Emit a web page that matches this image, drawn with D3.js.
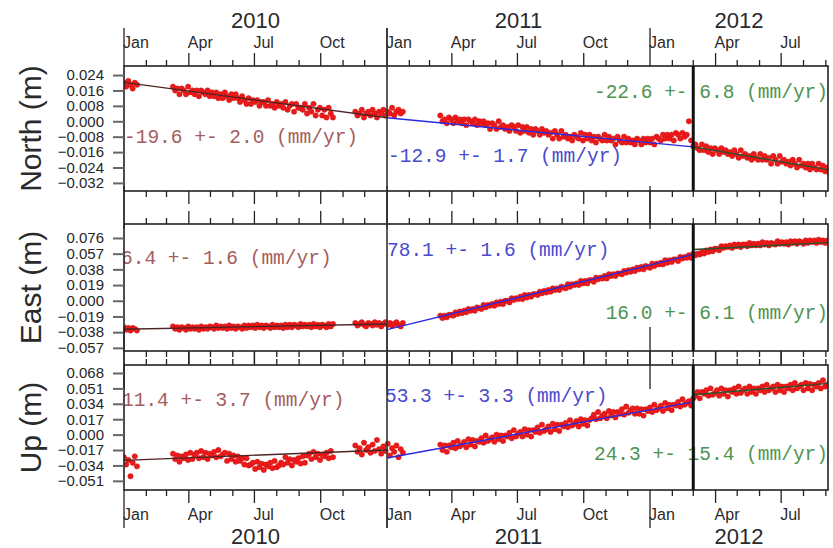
<!DOCTYPE html>
<html lang="en">
<head>
<meta charset="UTF-8">
<title>GPS North / East / Up time series</title>
<script src="https://d3js.org/d3.v7.min.js"></script>
<style>
  body { margin: 0; background: #fff; }
  svg { display: block; }
</style>
</head>
<body>
<svg width="833" height="548"></svg>
<script>
// daily solutions, sampled every 3 days from the start of each data segment
const segmentStarts = ['2010-01-01', '2010-03-10', '2010-11-18', '2011-03-16'];
const stepDays = 3;

// positions in mm, one inner array per data segment
const northMm = [
  [20, 18, 21, 19, 17, 20, 19],
  [18, 16, 17, 14, 17, 16, 14, 18, 15, 16,
   14, 16, 13, 16, 15, 14, 16, 13, 15, 13,
   15, 12, 14, 12, 15, 13, 11, 14, 12, 14,
   12, 10, 13, 11, 9, 12, 9, 11, 10, 11,
   8, 10, 10, 8, 11, 8, 9, 7, 10, 8,
   9, 7, 10, 6, 8, 9, 5, 9, 7, 7,
   6, 9, 4, 7, 5, 9, 3, 6, 7, 3,
   6, 2, 7, 4, 2],
  [5, 3, 4, 6, 2, 4, 5, 3, 6, 4, 2, 5, 4, 6, 3, 5, 4, 7, 3, 5, 6, 4, 5],
  [3, 0, 1, -1, 2, 1, -1, 2, 0, 1,
   -1, 1, -2, 1, 0, -1, 1, -2, 0, -1,
   0, -2, -1, -4, -1, -2, -4, 0, -3, -2,
   -4, -3, -5, -2, -3, -5, -2, -6, -3, -5,
   -3, -6, -4, -7, -4, -5, -7, -4, -6, -5,
   -7, -6, -9, -5, -7, -9, -5, -8, -7, -9,
   -8, -10, -7, -8, -9, -6, -10, -7, -9, -7,
   -10, -8, -11, -8, -9, -10, -7, -10, -8, -10,
   -9, -12, -8, -10, -11, -8, -11, -9, -11, -10,
   -12, -9, -10, -12, -9, -11, -9, -11, -9, -12,
   -8, -9, -10, -7, -9, -7, -9, -7, -10, -6,
   -7, -9, -6, -8, -7, 0, -10, -13, -12, -14,
   -15, -12, -15, -13, -16, -14, -17, -14, -15, -17,
   -14, -16, -15, -17, -16, -18, -15, -17, -19, -15,
   -18, -17, -19, -18, -20, -17, -19, -20, -17, -20,
   -18, -20, -19, -22, -18, -20, -22, -18, -21, -20,
   -22, -21, -23, -20, -22, -24, -20, -23, -22, -24,
   -22, -25, -22, -24, -25, -22, -25, -23, -26, -24, -27]
];

const eastMm = [
  [-32, -35, -33, -36, -33, -34, -36],
  [-31, -34, -32, -35, -32, -33, -35, -31, -34, -32,
   -34, -32, -35, -31, -34, -32, -34, -31, -32, -34,
   -30, -33, -31, -33, -31, -34, -30, -33, -31, -34,
   -31, -32, -34, -30, -33, -30, -32, -30, -33, -29,
   -32, -30, -33, -30, -31, -33, -29, -32, -30, -32,
   -30, -33, -29, -32, -29, -32, -29, -30, -32, -28,
   -31, -29, -31, -29, -32, -28, -31, -29, -32, -29,
   -30, -32, -28, -31, -28],
  [-27, -30, -28, -26, -29, -31, -27, -28, -30, -26, -29, -27, -31, -28, -26, -29, -27, -30, -28, -26, -29, -31, -27],
  [-18, -21, -18, -20, -17, -17, -18, -14, -16, -13,
   -15, -12, -14, -10, -12, -10, -12, -8, -9, -10,
   -5, -8, -5, -6, -4, -6, -2, -4, -1, -4,
   0, 0, -2, 3, 1, 3, 2, 5, 2, 7,
   4, 7, 5, 8, 8, 7, 11, 9, 12, 10,
   13, 11, 15, 13, 15, 13, 17, 16, 15, 20,
   17, 20, 19, 21, 19, 24, 21, 24, 21, 25,
   25, 23, 28, 26, 28, 27, 30, 27, 32, 30,
   32, 30, 33, 33, 32, 36, 34, 37, 35, 38,
   36, 40, 38, 41, 38, 42, 41, 40, 45, 42,
   45, 44, 46, 44, 49, 46, 49, 47, 50, 50,
   48, 53, 51, 53, 52, 55, 52, 57, 55, 57,
   56, 59, 57, 61, 59, 62, 60, 63, 63, 61,
   66, 64, 66, 65, 67, 64, 68, 66, 68, 65,
   68, 68, 66, 70, 67, 69, 67, 69, 67, 71,
   68, 70, 67, 70, 69, 68, 72, 69, 71, 69,
   71, 68, 72, 70, 72, 69, 72, 71, 69, 73,
   70, 73, 71, 73, 70, 74, 71, 73, 70, 73, 72]
];

const upMm = [
  [-25, -33, -28, -46, -31, -24, -35],
  [-21, -27, -23, -30, -24, -26, -22, -28, -20, -27,
   -22, -20, -26, -18, -25, -20, -27, -21, -23, -19,
   -25, -17, -24, -22, -20, -29, -21, -27, -23, -30,
   -24, -29, -26, -33, -26, -34, -33, -31, -38, -30,
   -36, -32, -39, -33, -35, -31, -37, -29, -36, -34,
   -31, -33, -25, -31, -27, -34, -28, -30, -26, -32,
   -24, -31, -23, -21, -27, -19, -25, -21, -28, -22,
   -24, -20, -26, -18, -25],
  [-12, -19, -15, -22, -9, -17, -14, -20, -11, -18, -6, -16, -21, -13, -18, -10, -23, -15, -19, -12, -25, -16, -20],
  [-11, -17, -12, -19, -12, -14, -9, -15, -7, -13,
   -11, -8, -14, -5, -11, -6, -13, -7, -8, -4,
   -9, -1, -7, -5, -3, -8, 0, -5, -1, -7,
   -1, -2, 2, -4, 5, -2, 1, 3, -2, 6,
   0, 5, -2, 5, 3, 8, 2, 11, 4, 6,
   9, 3, 12, 6, 11, 4, 11, 9, 13, 8,
   16, 10, 12, 15, 9, 17, 12, 16, 10, 16,
   18, 22, 17, 25, 18, 21, 23, 18, 26, 21,
   25, 19, 25, 23, 28, 22, 31, 24, 27, 29,
   23, 29, 23, 28, 21, 28, 26, 30, 25, 33,
   27, 29, 32, 26, 35, 29, 33, 27, 33, 32,
   36, 31, 39, 33, 35, 37, 32, 40, 43, 47,
   40, 47, 45, 49, 43, 51, 44, 46, 49, 43,
   51, 45, 49, 42, 49, 47, 51, 45, 53, 46,
   49, 51, 45, 53, 47, 51, 45, 51, 49, 53,
   47, 55, 49, 51, 53, 47, 55, 49, 53, 47,
   53, 51, 55, 49, 57, 51, 53, 55, 49, 57,
   51, 56, 49, 55, 53, 57, 51, 60, 53, 55, 57]
];

// linear fits (mm) between the break dates
const fitBreaks = ['2010-01-01', '2011-01-01', '2012-03-01', '2012-09-04'];
const northFit = [[20.2, 1.8], [1.8, -13.3], [-13.3, -25.1]];
const eastFit = [[-34.5, -28.1], [-35.0, 56.1], [62.0, 70.3]];
const upFit = [[-28.4, -17.0], [-25.8, 36.1], [44.0, 56.5]];

const northRates = ['-19.6 +- 2.0 (mm/yr)', '-12.9 +- 1.7 (mm/yr)', '-22.6 +- 6.8 (mm/yr)'];
const eastRates = ['6.4 +- 1.6 (mm/yr)', '78.1 +- 1.6 (mm/yr)', '16.0 +- 6.1 (mm/yr)'];
const upRates = ['11.4 +- 3.7 (mm/yr)', '53.3 +- 3.3 (mm/yr)', '24.3 +- 15.4 (mm/yr)'];

const northTicks = [0.024, 0.016, 0.008, 0.000, -0.008, -0.016, -0.024, -0.032];
const eastTicks = [0.076, 0.057, 0.038, 0.019, 0.000, -0.019, -0.038, -0.057];
const upTicks = [0.068, 0.051, 0.034, 0.017, 0.000, -0.017, -0.034, -0.051];

const northDomain = [-0.0362, 0.0287];
const eastDomain = [-0.0608, 0.0929];
const upDomain = [-0.0611, 0.0768];

const quarterNames = ['Jan', 'Apr', 'Jul', 'Oct'];
const years = [2010, 2011, 2012];
const breakDate = '2012-03-01';

const components = [
    { title: 'North (m)', mm: northMm, fit: northFit, rates: northRates, ticks: northTicks, domain: northDomain },
    { title: 'East (m)', mm: eastMm, fit: eastFit, rates: eastRates, ticks: eastTicks, domain: eastDomain },
    { title: 'Up (m)', mm: upMm, fit: upFit, rates: upRates, ticks: upTicks, domain: upDomain }
];

// layout
const plotLeft = 124, plotRight = 828;
const layout = [
    { top: 66, bottom: 191, textY: [143, 162, 98], textX: [124, 388] },
    { top: 224, bottom: 351, textY: [264, 256, 319], textX: [121, 387] },
    { top: 365, bottom: 490, textY: [406, 402, 460], textX: [122, 385] }
];
const fitColors = ['#4d2424', '#2a2ae0', '#2c4f2c'];
const textColors = ['#a65c5c', '#4a4acc', '#4f944f'];
const sansFont = "'Liberation Sans', Arial, sans-serif";
const monoFont = "'Liberation Mono', 'Courier New', monospace";
const tickLen = { year: 38, major: 13, minor: 6 };

const parseDate = d3.utcParse('%Y-%m-%d');
const x = d3.scaleUtc()
    .domain([parseDate('2010-01-01'), parseDate('2012-09-04')])
    .range([plotLeft, plotRight]);

const months = d3.utcMonth.range(parseDate('2010-01-01'), parseDate('2012-09-05'))
    .map(d => ({
        date: d,
        kind: d.getUTCMonth() === 0 ? 'year' : (d.getUTCMonth() % 3 === 0 ? 'major' : 'minor')
    }));

const svg = d3.select('svg');
const defs = svg.append('defs');

components.forEach((c, k) => {
    const L = layout[k];
    const y = d3.scaleLinear().domain(c.domain).range([L.bottom, L.top]);
    const g = svg.append('g');

    defs.append('clipPath').attr('id', 'clip' + k)
        .append('rect')
        .attr('x', plotLeft).attr('y', L.top)
        .attr('width', plotRight - plotLeft).attr('height', L.bottom - L.top);

    const inner = g.append('g').attr('clip-path', `url(#clip${k})`);

    const pts = [];
    c.mm.forEach((seg, s) => {
        const t0 = parseDate(segmentStarts[s]);
        seg.forEach((v, j) => pts.push({ date: d3.utcDay.offset(t0, j * stepDays), v: v / 1000 }));
    });

    inner.selectAll('circle')
        .data(pts)
        .join('circle')
        .attr('cx', d => x(d.date))
        .attr('cy', d => y(d.v))
        .attr('r', 2.7)
        .attr('fill', '#ee1a1a')
        .attr('stroke', '#c21010')
        .attr('stroke-width', 0.4);

    c.fit.forEach((f, i) => {
        inner.append('line')
            .attr('x1', x(parseDate(fitBreaks[i])))
            .attr('x2', x(parseDate(fitBreaks[i + 1])))
            .attr('y1', y(f[0] / 1000))
            .attr('y2', y(f[1] / 1000))
            .attr('stroke', fitColors[i])
            .attr('stroke-width', 1.4);
    });

    c.rates.forEach((t, i) => {
        inner.append('text')
            .attr('x', i < 2 ? L.textX[i] : plotRight)
            .attr('y', L.textY[i])
            .attr('text-anchor', i < 2 ? 'start' : 'end')
            .attr('font-family', monoFont)
            .attr('font-size', 19.5)
            .attr('fill', textColors[i])
            .attr('xml:space', 'preserve')
            .text(t);
    });

    // frame
    g.append('rect')
        .attr('x', plotLeft).attr('y', L.top)
        .attr('width', plotRight - plotLeft).attr('height', L.bottom - L.top)
        .attr('fill', 'none')
        .attr('stroke', '#222')
        .attr('stroke-width', 1.6);

    // thick break line
    g.append('line')
        .attr('x1', x(parseDate(breakDate))).attr('x2', x(parseDate(breakDate)))
        .attr('y1', L.top).attr('y2', L.bottom)
        .attr('stroke', '#111')
        .attr('stroke-width', 3);

    // time ticks, outward on top and bottom edges
    g.selectAll('line.top-tick')
        .data(months)
        .join('line')
        .attr('class', 'top-tick')
        .attr('x1', d => x(d.date)).attr('x2', d => x(d.date))
        .attr('y1', L.top).attr('y2', d => L.top - tickLen[d.kind])
        .attr('stroke', '#222').attr('stroke-width', 1.3);

    g.selectAll('line.bottom-tick')
        .data(months)
        .join('line')
        .attr('class', 'bottom-tick')
        .attr('x1', d => x(d.date)).attr('x2', d => x(d.date))
        .attr('y1', L.bottom).attr('y2', d => L.bottom + tickLen[d.kind])
        .attr('stroke', '#222').attr('stroke-width', 1.3);

    // y axis
    const yAxis = d3.axisLeft(y)
        .tickValues(c.ticks)
        .tickSize(11)
        .tickPadding(9)
        .tickFormat(d3.format('.3f'));

    const ya = g.append('g')
        .attr('transform', `translate(${plotLeft},0)`)
        .call(yAxis);
    ya.select('.domain').remove();
    ya.selectAll('.tick line').attr('stroke', '#666').attr('stroke-width', 2);
    ya.selectAll('.tick text')
        .attr('font-family', sansFont)
        .attr('font-size', 15)
        .attr('fill', '#262626');

    svg.append('text')
        .attr('transform', `translate(41,${(L.top + L.bottom) / 2}) rotate(-90)`)
        .attr('text-anchor', 'middle')
        .attr('font-family', sansFont)
        .attr('font-size', 30)
        .attr('fill', '#2a2a2a')
        .text(c.title);
});

// divider at the start of 2011 running through all panels
const jan2011 = x(parseDate('2011-01-01'));
svg.append('line')
    .attr('x1', jan2011).attr('x2', jan2011)
    .attr('y1', 28).attr('y2', 528)
    .attr('stroke', '#333').attr('stroke-width', 1.6);

// month and year labels, top and bottom
const quarters = months.filter(d => d.kind !== 'minor');
const labelRows = [
    { monthY: 48, yearY: 28 },
    { monthY: 520, yearY: 544 }
];
labelRows.forEach(r => {
    svg.append('g').selectAll('text')
        .data(quarters)
        .join('text')
        .attr('x', d => x(d.date) - 1)
        .attr('y', r.monthY)
        .attr('font-family', sansFont)
        .attr('font-size', 16)
        .attr('fill', '#2a2a2a')
        .text(d => quarterNames[d.date.getUTCMonth() / 3]);

    svg.append('g').selectAll('text')
        .data(years)
        .join('text')
        .attr('x', yr => {
            const a = Math.max(x(new Date(Date.UTC(yr, 0, 1))), plotLeft);
            const b = Math.min(x(new Date(Date.UTC(yr + 1, 0, 1))), plotRight);
            return (a + b) / 2;
        })
        .attr('y', r.yearY)
        .attr('text-anchor', 'middle')
        .attr('font-family', sansFont)
        .attr('font-size', 22)
        .attr('fill', '#2a2a2a')
        .text(yr => yr);
});
</script>
</body>
</html>
